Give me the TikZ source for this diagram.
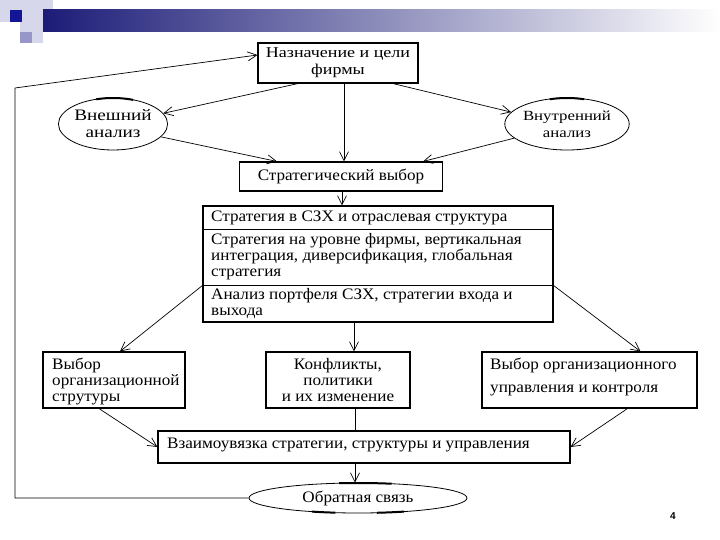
\documentclass[tikz,border=0pt]{standalone}
\usepackage{fontspec}
\setmainfont{Liberation Serif}
\newfontfamily\numfont{Liberation Sans}
\newfontfamily\widefont[FakeStretch=1.07]{Liberation Serif}
\newfontfamily\bigwidefont[FakeStretch=1.2]{Liberation Serif}
\usetikzlibrary{arrows.meta,shapes.geometric,calc}
\definecolor{navy}{RGB}{28,28,120}
\definecolor{darksq}{RGB}{20,20,150}
\definecolor{lavsq}{RGB}{150,150,200}
\definecolor{palesq}{RGB}{215,215,235}
\begin{document}
\begin{tikzpicture}[x=1pt,y=-1pt,
  txt/.style={font=\widefont\fontsize{16}{16}\selectfont},
  bigtxt/.style={font=\bigwidefont\fontsize{15}{17}\selectfont},
  box/.style={draw,line width=1.1pt,inner sep=0pt,txt},
  oval/.style={draw,ellipse,line width=0.8pt,inner sep=0pt,align=center},
  thickarc/.style={line width=2pt},
  arr/.style={line width=0.7pt,-{Straight Barb[length=9pt,width=9pt]}},
  ln/.style={line width=0.7pt}]
\useasboundingbox (0,0) rectangle (720,540);
\fill[white] (0,0) rectangle (720,540);
% header
\fill[palesq] (0,0) rectangle (43,43);
\fill[white] (0,22) rectangle (20,43);
\fill[palesq] (43,0) rectangle (53,18);
\shade[left color=navy,right color=white] (43,10) rectangle (720,32);
\fill[darksq] (10,10) rectangle (22,22);
\fill[lavsq] (20,32) rectangle (32,43);
% nodes
\node[box,bigtxt,minimum width=160pt,minimum height=40pt,align=center] (goal) at (338,63) {Назначение и цели\\фирмы};
\node[oval,font=\bigwidefont\fontsize{16}{17}\selectfont,minimum width=108pt,minimum height=52pt] (le) at (113,124) {Внешний\\анализ};
\node[oval,font=\bigwidefont\fontsize{14}{17}\selectfont,minimum width=112pt,minimum height=52pt] (re) at (567,124) {Внутренний\\анализ};
\node[box,minimum width=203pt,minimum height=29pt] (strat) at (341,176.5) {Стратегический выбор};
\node[draw,line width=1.1pt,minimum width=350pt,minimum height=116pt,inner sep=0pt] (big) at (378,264) {};
\draw[line width=0.7pt] ($(big.north west)+(0,24)$) -- ($(big.north east)+(0,24)$);
\draw[line width=1.6pt] ($(big.north west)+(0,80)$) -- ($(big.north east)+(0,80)$);
\node[txt,anchor=west,inner sep=0pt] (r1) at (211,218) {Стратегия в СЗХ и отраслевая структура};
\node[txt,anchor=west,inner sep=0pt,align=left] (r2) at (211,257) {Стратегия на уровне фирмы, вертикальная\\интеграция, диверсификация, глобальная\\стратегия};
\node[txt,anchor=west,inner sep=0pt,align=left] (r3) at (211,303) {Анализ портфеля СЗХ, стратегии входа и\\выхода};
\node[box,minimum width=142pt,minimum height=56pt] (lb) at (114,380) {};
\node[txt,anchor=west,inner sep=0pt,align=left] (lbt) at (52,381) {Выбор\\организационной\\струтуры};
\node[box,minimum width=144pt,minimum height=56pt,align=center] (mb) at (338,380) {Конфликты,\\политики\\и их изменение};
\node[box,minimum width=215pt,minimum height=56pt] (rb) at (589.5,380) {};
\node[anchor=west,inner sep=0pt,align=left,font=\widefont\fontsize{16}{23}\selectfont] (rbt) at (490,377) {Выбор организационного\\управления и контроля};
\node[box,minimum width=412pt,minimum height=32pt] (bb) at (364,447) {};
\node[txt,anchor=west,inner sep=0pt] (bbt) at (167,445) {Взаимоувязка стратегии, структуры и управления};
\node[oval,txt,minimum width=218pt,minimum height=30pt] (fb) at (358,498) {Обратная связь};
\node[font=\numfont\bfseries\fontsize{10}{12}\selectfont] (pg) at (673,516) {4};
% bold arcs on ellipses
\draw[thickarc] ($(le.center)+({54*cos(68)},{-26*sin(68)})$) arc[start angle=68,end angle=108,x radius=54pt,y radius=26pt];
\draw[thickarc] ($(re.center)+({56*cos(72)},{-26*sin(72)})$) arc[start angle=72,end angle=108,x radius=56pt,y radius=26pt];
\draw[thickarc] ($(fb.center)+({109*cos(72)},{-15*sin(72)})$) arc[start angle=72,end angle=100,x radius=109pt,y radius=15pt];
\draw[thickarc] ($(fb.center)+({109*cos(245)},{-15*sin(245)})$) arc[start angle=245,end angle=258,x radius=109pt,y radius=15pt];
\draw[thickarc] ($(fb.center)+({109*cos(280)},{-15*sin(280)})$) arc[start angle=280,end angle=295,x radius=109pt,y radius=15pt];
% connectors
\coordinate (c1) at (15,498);
\coordinate (c2) at (15,88);
\draw[arr] ([xshift=-40pt]goal.south) -- (le.12);
\draw[arr] ([xshift=55pt]goal.south) -- (re.168);
\draw[arr] ([xshift=6pt]goal.south) -- ([xshift=6pt]goal.south |- strat.north);
\draw[arr] (le.-15) -- ([xshift=38pt]strat.north west);
\draw[arr] (re.195) -- ([xshift=-20pt]strat.north east);
\draw[arr] ([xshift=1pt]strat.south) -- ([xshift=1pt]strat.south |- big.north);
\draw[arr] ($(big.north west)+(0,80)$) -- ([xshift=6pt]lb.north);
\draw[arr] ($(big.north east)+(0,80)$) -- ([xshift=51pt]rb.north);
\draw[arr] ([xshift=-24pt]big.south) -- ([xshift=-24pt]big.south |- mb.north);
\draw[arr] ([xshift=-15pt]lb.south) -- (bb.west);
\draw[ln] ([xshift=17pt]mb.south) -- ([xshift=17pt]mb.south |- bb.north);
\draw[arr] ([xshift=38pt]rb.south) -- (bb.east);
\draw[arr] ([xshift=-9pt]bb.south) -- ([xshift=-9pt]bb.south |- fb.north);
\draw[arr] (fb.west) -- (c1) -- (c2) -- ([yshift=8pt]goal.west);
\end{tikzpicture}
\end{document}
